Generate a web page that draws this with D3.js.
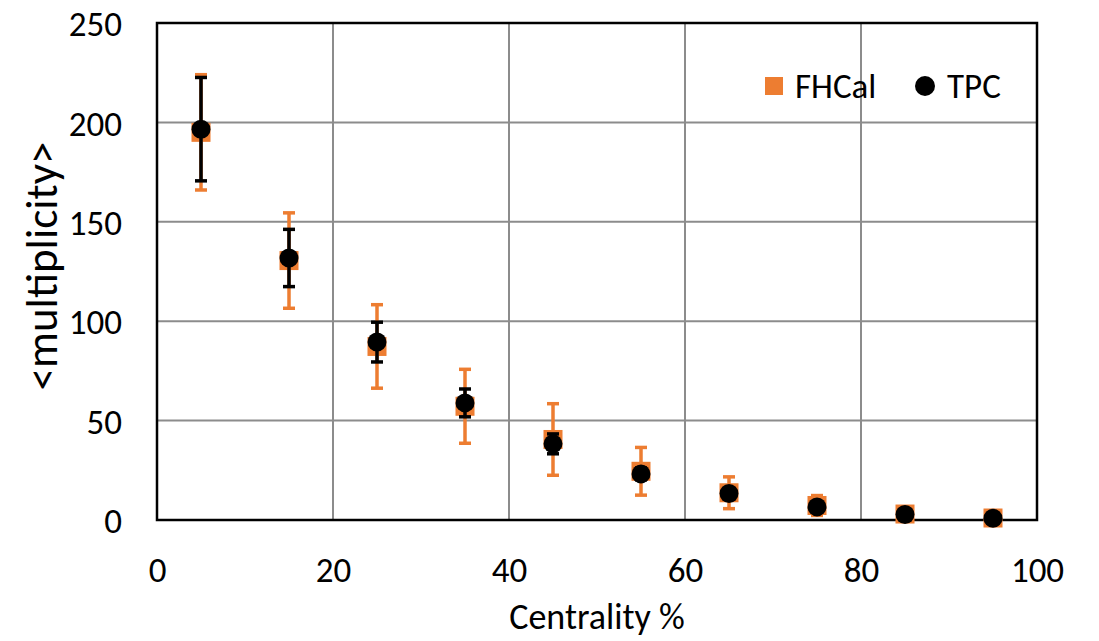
<!DOCTYPE html>
<html>
<head>
<meta charset="utf-8">
<title>multiplicity vs centrality</title>
<script src="https://d3js.org/d3.v7.min.js"></script>
<style>
  body { margin: 0; background: #fff; }
  text { font-family: Carlito, Calibri, Lato, sans-serif; fill: #000; }
</style>
</head>
<body>
<svg id="chart" width="1099" height="641"></svg>
<script>
// values
var centrality = [5, 15, 25, 35, 45, 55, 65, 75, 85, 95];
var fhcal    = [195, 130.5, 87.3, 57.2, 40.5, 24.5, 13.7, 7.3, 3, 1];
var fhcalErr = [29, 24, 21, 18.6, 18, 12, 8, 5, 2, 1];
var tpc      = [196.6, 131.8, 89.5, 58.9, 38.3, 23.2, 13.3, 6.6, 2.8, 0.9];
var tpcErr   = [26, 14.4, 10, 7, 5, 3, 2, 1, 0.5, 0.3];
var xTicks = [0, 20, 40, 60, 80, 100];
var yTicks = [0, 50, 100, 150, 200, 250];

var orange = '#ed7d31';
var svg = d3.select('#chart');
var margin = {top: 23, right: 62, bottom: 121, left: 157};
var width = 1099 - margin.left - margin.right,
    height = 641 - margin.top - margin.bottom;

var g = svg.append('g').attr('transform', 'translate(' + margin.left + ',' + margin.top + ')');

var x = d3.scaleLinear().domain([0, 100]).range([0, width]);
var y = d3.scaleLinear().domain([0, 250]).range([height, 0]);

// grid
g.append('g').selectAll('line.h').data(yTicks).join('line')
  .attr('x1', 0).attr('x2', width)
  .attr('y1', d => y(d)).attr('y2', d => y(d))
  .attr('stroke', '#8c8c8c').attr('stroke-width', 2);
g.append('g').selectAll('line.v').data(xTicks).join('line')
  .attr('y1', 0).attr('y2', height)
  .attr('x1', d => x(d)).attr('x2', d => x(d))
  .attr('stroke', '#8c8c8c').attr('stroke-width', 2);

// axes (labels only)
var xAxis = g.append('g').attr('transform', 'translate(0,' + height + ')')
  .call(d3.axisBottom(x).tickValues(xTicks).tickSize(0).tickPadding(37));
var yAxis = g.append('g')
  .call(d3.axisLeft(y).tickValues(yTicks).tickSize(0).tickPadding(35));
[xAxis, yAxis].forEach(function(a) {
  a.select('.domain').remove();
  a.selectAll('text').style('font-size', '35px').attr('font-family', null);
});
yAxis.selectAll('text').attr('dy', '0.36em');

// frame
g.append('rect').attr('width', width).attr('height', height)
  .attr('fill', 'none').attr('stroke', '#000').attr('stroke-width', 2.5);

function errorBars(vals, errs, color) {
  var eg = g.append('g').attr('stroke', color).attr('stroke-width', 3.5);
  var cap = 6;
  centrality.forEach(function(c, i) {
    var cx = x(c), y0 = y(vals[i] - errs[i]), y1 = y(vals[i] + errs[i]);
    eg.append('line').attr('x1', cx).attr('x2', cx).attr('y1', y0).attr('y2', y1);
    eg.append('line').attr('x1', cx - cap).attr('x2', cx + cap).attr('y1', y0).attr('y2', y0);
    eg.append('line').attr('x1', cx - cap).attr('x2', cx + cap).attr('y1', y1).attr('y2', y1);
  });
}

// FHCal
errorBars(fhcal, fhcalErr, orange);
g.append('g').selectAll('rect').data(centrality).join('rect')
  .attr('x', d => x(d) - 9.5).attr('y', (d, i) => y(fhcal[i]) - 9.5)
  .attr('width', 19).attr('height', 19).attr('fill', orange);

// TPC
errorBars(tpc, tpcErr, '#000');
g.append('g').selectAll('circle').data(centrality).join('circle')
  .attr('cx', d => x(d)).attr('cy', (d, i) => y(tpc[i]))
  .attr('r', 9.5).attr('fill', '#000');

// legend
var lg = svg.append('g');
lg.append('rect').attr('x', 765).attr('y', 77).attr('width', 18).attr('height', 18).attr('fill', orange);
lg.append('text').attr('x', 795).attr('y', 86).attr('dy', '0.35em').style('font-size', '35px').text('FHCal');
lg.append('circle').attr('cx', 925).attr('cy', 86).attr('r', 10).attr('fill', '#000');
lg.append('text').attr('x', 947).attr('y', 86).attr('dy', '0.35em').style('font-size', '35px').text('TPC');

// axis titles
svg.append('text').attr('x', margin.left + width / 2).attr('y', 629)
  .attr('text-anchor', 'middle').style('font-size', '36px').text('Centrality %');
svg.append('text')
  .attr('transform', 'translate(57,266) rotate(-90)')
  .attr('text-anchor', 'middle').style('font-size', '45px').text('<multiplicity>');
</script>
</body>
</html>
